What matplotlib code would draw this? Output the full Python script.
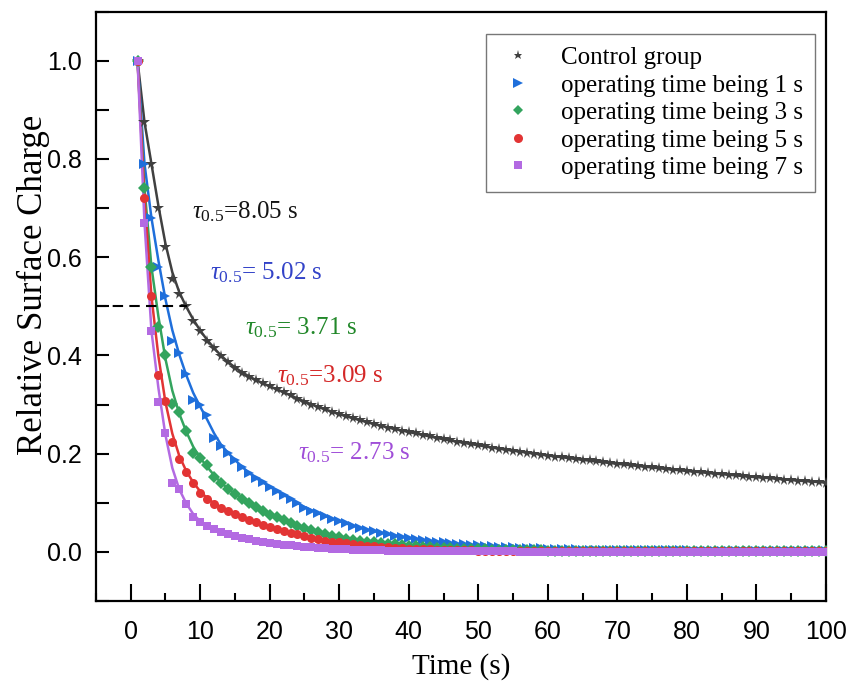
import numpy as np
import matplotlib
matplotlib.use("Agg")
import matplotlib.pyplot as plt
from matplotlib.ticker import MultipleLocator

plt.rcParams['font.family'] = ['Liberation Serif', 'DejaVu Serif']
plt.rcParams['mathtext.fontset'] = 'custom'
plt.rcParams['mathtext.rm'] = 'Liberation Serif'
plt.rcParams['mathtext.it'] = 'Liberation Serif:italic'

time_s = list(range(1, 101))

control = [1.000, 0.875, 0.790, 0.700, 0.620, 0.555, 0.525, 0.500, 0.470, 0.450,
           0.430, 0.415, 0.398, 0.386, 0.375, 0.365, 0.357, 0.350, 0.343, 0.337,
           0.331, 0.325, 0.319, 0.312, 0.306, 0.300, 0.295, 0.290, 0.285, 0.280,
           0.276, 0.272, 0.268, 0.264, 0.260, 0.257, 0.253, 0.250, 0.247, 0.244,
           0.241, 0.238, 0.235, 0.232, 0.229, 0.227, 0.224, 0.222, 0.219, 0.217,
           0.215, 0.212, 0.210, 0.208, 0.206, 0.204, 0.202, 0.200, 0.198, 0.196,
           0.194, 0.193, 0.191, 0.189, 0.187, 0.186, 0.184, 0.182, 0.181, 0.179,
           0.178, 0.176, 0.175, 0.173, 0.172, 0.170, 0.169, 0.167, 0.166, 0.165,
           0.163, 0.162, 0.161, 0.159, 0.158, 0.157, 0.156, 0.154, 0.153, 0.152,
           0.151, 0.150, 0.149, 0.147, 0.146, 0.145, 0.144, 0.143, 0.142, 0.141]

op_1s = [1.000, 0.790, 0.680, 0.580, 0.520, 0.430, 0.405, 0.362, 0.310, 0.298,
         0.278, 0.232, 0.215, 0.202, 0.188, 0.172, 0.160, 0.150, 0.142, 0.132,
         0.124, 0.116, 0.108, 0.100, 0.090, 0.084, 0.079, 0.073, 0.067, 0.062,
         0.058, 0.053, 0.049, 0.045, 0.042, 0.039, 0.036, 0.033, 0.031, 0.028,
         0.026, 0.024, 0.022, 0.020, 0.019, 0.017, 0.016, 0.015, 0.014, 0.013,
         0.012, 0.011, 0.010, 0.009, 0.009, 0.008, 0.008, 0.007, 0.007, 0.006,
         0.006, 0.005, 0.005, 0.005, 0.004, 0.004, 0.004, 0.004, 0.003, 0.003,
         0.003, 0.003, 0.003, 0.003, 0.003, 0.003, 0.003, 0.003, 0.003, 0.003,
         0.002, 0.002, 0.002, 0.002, 0.002, 0.002, 0.002, 0.002, 0.002, 0.002,
         0.002, 0.002, 0.002, 0.002, 0.002, 0.002, 0.002, 0.002, 0.002, 0.002]

op_3s = [1.000, 0.740, 0.580, 0.457, 0.400, 0.302, 0.284, 0.247, 0.202, 0.192,
         0.176, 0.152, 0.140, 0.128, 0.118, 0.108, 0.100, 0.092, 0.084, 0.076,
         0.070, 0.064, 0.058, 0.053, 0.048, 0.044, 0.040, 0.036, 0.033, 0.030,
         0.027, 0.025, 0.023, 0.021, 0.019, 0.017, 0.016, 0.015, 0.013, 0.012,
         0.011, 0.010, 0.009, 0.008, 0.008, 0.007, 0.006, 0.006, 0.005, 0.005,
         0.005, 0.004, 0.004, 0.004, 0.003, 0.003, 0.003, 0.003, 0.003, 0.002,
         0.002, 0.002, 0.002, 0.002, 0.002, 0.002, 0.002, 0.002, 0.002, 0.002,
         0.002, 0.002, 0.002, 0.002, 0.001, 0.001, 0.001, 0.001, 0.001, 0.001,
         0.001, 0.001, 0.001, 0.001, 0.001, 0.001, 0.001, 0.001, 0.001, 0.001,
         0.001, 0.001, 0.001, 0.001, 0.001, 0.001, 0.001, 0.001, 0.001, 0.001]

op_5s = [1.000, 0.720, 0.520, 0.360, 0.308, 0.223, 0.190, 0.162, 0.140, 0.120,
         0.108, 0.098, 0.090, 0.083, 0.077, 0.071, 0.065, 0.060, 0.055, 0.051,
         0.047, 0.043, 0.039, 0.036, 0.032, 0.029, 0.026, 0.023, 0.021, 0.019,
         0.017, 0.015, 0.013, 0.012, 0.011, 0.010, 0.009, 0.008, 0.007, 0.006,
         0.006, 0.005, 0.005, 0.004, 0.004, 0.004, 0.003, 0.003, 0.003, 0.002,
         0.002, 0.002, 0.002, 0.002, 0.002, 0.002, 0.002, 0.001, 0.001, 0.001,
         0.001, 0.001, 0.001, 0.001, 0.001, 0.001, 0.001, 0.001, 0.001, 0.001,
         0.001, 0.001, 0.001, 0.001, 0.001, 0.001, 0.001, 0.001, 0.001, 0.001,
         0.001, 0.001, 0.001, 0.001, 0.001, 0.001, 0.001, 0.001, 0.001, 0.001,
         0.001, 0.001, 0.001, 0.001, 0.001, 0.001, 0.001, 0.001, 0.001, 0.001]

op_7s = [1.000, 0.670, 0.450, 0.305, 0.243, 0.141, 0.128, 0.098, 0.070, 0.060,
         0.053, 0.046, 0.040, 0.036, 0.032, 0.029, 0.026, 0.023, 0.020, 0.018,
         0.016, 0.014, 0.013, 0.011, 0.010, 0.009, 0.008, 0.007, 0.006, 0.005,
         0.005, 0.004, 0.004, 0.003, 0.003, 0.003, 0.002, 0.002, 0.002, 0.002,
         0.001, 0.001, 0.001, 0.001, 0.001, 0.001, 0.001, 0.001, 0.001, 0.001,
         0.001, 0.001, 0.001, 0.001, 0.001, 0.000, 0.000, 0.000, 0.000, 0.000,
         0.000, 0.000, 0.000, 0.000, 0.000, 0.000, 0.000, 0.000, 0.000, 0.000,
         0.000, 0.000, 0.000, 0.000, 0.000, 0.000, 0.000, 0.000, 0.000, 0.000,
         0.000, 0.000, 0.000, 0.000, 0.000, 0.000, 0.000, 0.000, 0.000, 0.000,
         0.000, 0.000, 0.000, 0.000, 0.000, 0.000, 0.000, 0.000, 0.000, 0.000]

series_labels = ["Control group", "operating time being 1 s", "operating time being 3 s",
                 "operating time being 5 s", "operating time being 7 s"]
half_times = ["8.05", "5.02", "3.71", "3.09", "2.73"]
half_time_control = 8.05

series = [control, op_1s, op_3s, op_5s, op_7s]
colors = ['#404040', '#1f6fdb', '#33a45e', '#e23434', '#b36ae2']
text_colors = ['#151515', '#3343c8', '#22882a', '#d42828', '#a04ed8']
markers = ['*', '>', 'D', 'o', 's']
msizes = [8.5, 7.5, 6.0, 6.5, 6.0]
leg_msizes = [6.5, 7.0, 5.5, 6.5, 5.5]
text_pos = [(8.9, 0.692, '='), (11.4, 0.569, '= '), (16.4, 0.457, '= '),
            (21.0, 0.359, '='), (24.1, 0.202, '= ')]

def smooth(y):
    y = np.asarray(y, dtype=float)
    out = y.copy()
    k = np.array([0.25, 0.5, 0.25])
    for _ in range(2):
        tmp = out.copy()
        tmp[3:-1] = np.convolve(out, k, mode='same')[3:-1]
        out = tmp
    return out

fig = plt.figure(figsize=(8.48, 6.86), dpi=100)
ax = fig.add_axes([0.113, 0.124, 0.861, 0.859])

t = np.array(time_s)
for ys, c, m, ms, lab in zip(series, colors, markers, msizes, series_labels):
    ax.plot(t, smooth(ys), '-', color=c, lw=1.8, zorder=2)
    ax.plot(t, ys, linestyle='none', marker=m, color=c, markersize=ms,
            markeredgewidth=0, label=lab, zorder=3)

ax.plot([-5, half_time_control], [0.5, 0.5], '--', color='black', lw=1.5,
        dashes=(5, 3), zorder=4)

for (x, y, eq), ht, tc in zip(text_pos, half_times, text_colors):
    ax.text(x, y, r'$\tau_{0.5}$' + eq + ht + ' s', color=tc, fontsize=18,
            va='center', ha='left')

ax.set_xlim(-5, 100)
ax.set_ylim(-0.1, 1.1)
ax.xaxis.set_major_locator(MultipleLocator(10))
ax.xaxis.set_minor_locator(MultipleLocator(5))
ax.yaxis.set_minor_locator(MultipleLocator(0.1))
ax.set_yticks(np.arange(0, 1.01, 0.2))
ax.set_yticklabels([f"{v:.1f}" for v in np.arange(0, 1.01, 0.2)])
ax.tick_params(axis='both', which='both', direction='in', width=1.5)
ax.tick_params(axis='x', which='major', length=12, pad=14)
ax.tick_params(axis='x', which='minor', length=6)
ax.tick_params(axis='y', which='both', length=9)
ax.tick_params(axis='y', which='major', pad=10)
for lbl in ax.get_xticklabels() + ax.get_yticklabels():
    lbl.set_fontfamily(['Liberation Sans Narrow', 'Liberation Sans'])
    lbl.set_fontsize(18)
for sp in ax.spines.values():
    sp.set_linewidth(1.6)

ax.set_xlabel('Time (s)', fontsize=21, labelpad=6)
ax.set_ylabel('Relative Surface Charge', fontsize=25)
ax.yaxis.set_label_coords(-0.063, 0.537)

leg = ax.legend(loc='upper right', bbox_to_anchor=(0.985, 0.962), fontsize=18,
                frameon=True, fancybox=False, edgecolor='#555555',
                handlelength=1.6, handletextpad=0.9, labelspacing=0.2,
                borderpad=0.5, borderaxespad=0.0)
leg.get_frame().set_linewidth(1.0)
for lh, ms in zip(leg.legend_handles, leg_msizes):
    lh.set_markersize(ms)

fig.savefig('out.png', dpi=100)
